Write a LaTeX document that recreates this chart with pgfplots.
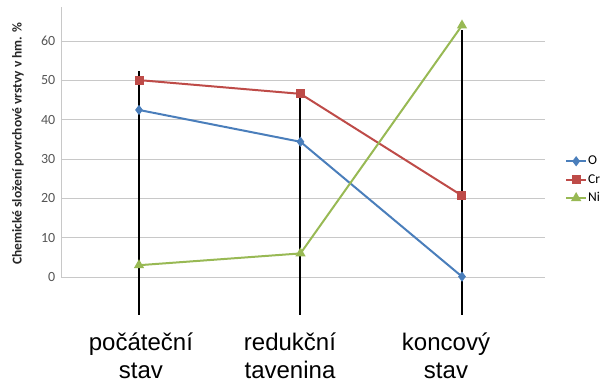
\documentclass[border=0pt]{standalone}
\usepackage{pgfplots}
\pgfplotsset{compat=1.18}
\usepackage{fontspec}
\setmainfont{Carlito}
\newfontfamily\arialf{Liberation Sans}
\definecolor{cO}{RGB}{74,126,187}
\definecolor{cCr}{RGB}{190,75,72}
\definecolor{cNi}{RGB}{152,185,84}
\definecolor{gridc}{RGB}{200,200,200}
\definecolor{tickc}{RGB}{85,85,85}
\begin{document}
\begin{tikzpicture}
\begin{axis}[
  at={(0,0)}, anchor=south west,
  scale only axis, width=484pt, height=270pt,
  xmin=0.517, xmax=3.514, ymin=0, ymax=68.7,
  xtick={1.012,1.935,2.901},
  xticklabels={{počáteční\\stav},{redukční\\tavenina},{koncový\\stav}},
  xticklabel style={font=\arialf\fontsize{24}{28}\selectfont, align=center, yshift=-50pt},
  ytick={0,10,...,60},
  yticklabel style={font=\fontsize{14}{16}\selectfont, text=tickc},
  /pgf/number format/assume math mode=true,
  ymajorgrids, grid style={draw=gridc, line width=0.8pt},
  axis lines=left, axis line style={-},
  x axis line style={draw=none},
  y axis line style={draw=gridc, line width=0.8pt},
  tick style={draw=none},
  clip=false,
  ylabel={Chemické složení povrchové vrstvy v hm. \%},
  ylabel style={font=\bfseries\fontsize{13.5}{15}\selectfont, text=black!85, at={(axis description cs:-0.089,0.494)}, anchor=center},
  legend style={at={(axis description cs:1.035,0.36)}, anchor=west, draw=none, fill=none,
    font=\fontsize{13.5}{15}\selectfont, row sep=6pt, nodes={inner sep=1pt}},
  legend cell align=left,
  legend image code/.code={\draw[mark repeat=2,mark phase=2,#1] plot coordinates {(0pt,0pt) (10pt,0pt) (20pt,0pt)};},
]
\addplot[cO, line width=2pt, mark=diamond*, mark size=3.5pt, mark options={fill=cO}] coordinates {(1,42.5) (2,34.4) (3,0.1)};
\addlegendentry{O}
\addplot[cCr, line width=2pt, mark=square*, mark size=3.5pt, mark options={fill=cCr}] coordinates {(1,50.1) (2,46.6) (3,20.7)};
\addlegendentry{Cr}
\addplot[cNi, line width=2pt, mark=triangle*, mark size=4pt, mark options={fill=cNi}] coordinates {(1,3.0) (2,6.0) (3,64.0)};
\addlegendentry{Ni}
\addplot[black, line width=2pt, forget plot] coordinates {(1,52.3) (1,-9.7)};
\addplot[black, line width=2pt, forget plot] coordinates {(2,47.3) (2,-9.7)};
\addplot[black, line width=2pt, forget plot] coordinates {(3,62.8) (3,-9.7)};
\end{axis}
\pgfresetboundingbox
\path[use as bounding box] (-61pt,-110pt) rectangle (544pt,277pt);
\end{tikzpicture}
\end{document}
